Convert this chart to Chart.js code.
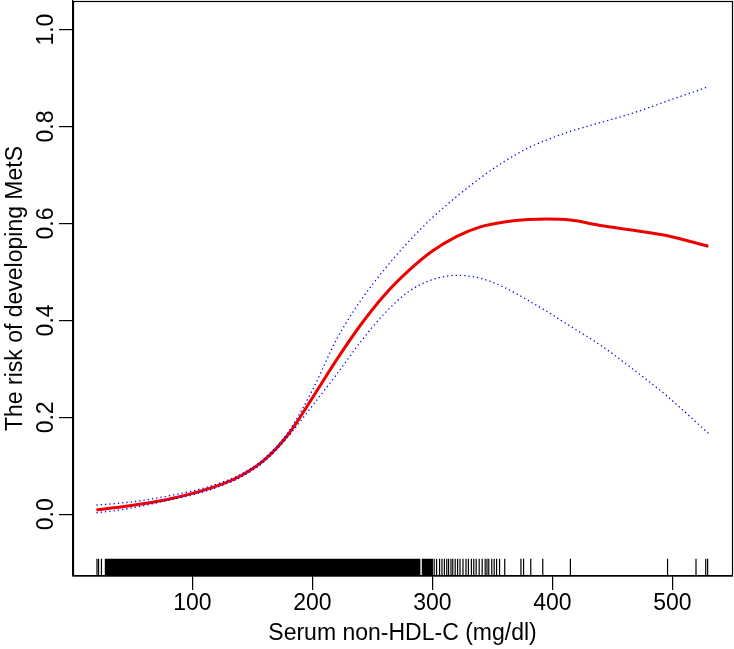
<!DOCTYPE html>
<html>
<head>
<meta charset="utf-8">
<script src="https://cdn.jsdelivr.net/npm/chart.js@4.4.1/dist/chart.umd.min.js"></script>
<style>
html,body{margin:0;padding:0;background:#fff;}
#wrap{width:734px;height:649px;position:relative;}
</style>
</head>
<body>
<div id="wrap"><canvas id="c"></canvas></div>
<script>
// ---- data ----
const xValues = [20, 40, 60, 80, 100, 120, 140, 160, 180, 200, 220, 240, 260, 280, 300, 320, 340, 360, 380, 395, 415, 440, 470, 495, 530];
const riskFit = [0.009, 0.015, 0.022, 0.031, 0.043, 0.058, 0.079, 0.112, 0.165, 0.240, 0.318, 0.390, 0.452, 0.502, 0.543, 0.573, 0.593, 0.603, 0.608, 0.609, 0.607, 0.596, 0.585, 0.575, 0.553];
const riskUpper = [0.019, 0.023, 0.029, 0.038, 0.048, 0.062, 0.082, 0.115, 0.170, 0.256, 0.360, 0.440, 0.505, 0.562, 0.612, 0.655, 0.694, 0.728, 0.756, 0.772, 0.790, 0.808, 0.830, 0.852, 0.882];
const riskLower = [0.003, 0.009, 0.018, 0.029, 0.040, 0.055, 0.076, 0.109, 0.161, 0.224, 0.288, 0.355, 0.414, 0.459, 0.484, 0.493, 0.487, 0.468, 0.441, 0.419, 0.388, 0.349, 0.294, 0.245, 0.167];
const rugSingles = [20.5, 21.8, 24.2, 301.5, 303.5, 306, 308, 310, 312, 313.5, 315.5, 317, 319, 321, 323, 325.5, 328, 330, 332.5, 334.5, 336.5, 339, 341.5, 344, 345.5, 347, 349.5, 351.5, 353.5, 356, 360.3, 373.8, 376, 382, 392, 415, 496, 519.7, 527.8, 529.4];
const rugDenseRanges = [[26.8, 290.2], [291, 300.5]];
const xTicks = [100, 200, 300, 400, 500];
const yTicks = [0, 0.2, 0.4, 0.6, 0.8, 1.0];
const yTickLabels = ['0.0', '0.2', '0.4', '0.6', '0.8', '1.0'];
const xTitle = 'Serum non-HDL-C (mg/dl)';
const yTitle = 'The risk of developing MetS';

// ---- styling / layout constants ----
const FONT = 'Liberation Sans, Arial, Helvetica, sans-serif';
const FS = 23;
const X_MIN = 0.5, X_MAX = 549.7;
const Y_MIN = -0.1274, Y_MAX = 1.059;
const RUG_LO = Y_MIN, RUG_HI = -0.0919;

const pts = ys => xValues.map((x, i) => ({x: x, y: ys[i]}));

const rugLineData = [];
rugSingles.forEach(v => {
  rugLineData.push({x: v, y: RUG_LO}, {x: v, y: RUG_HI}, {x: v, y: null});
});

const datasets = [
  {data: pts(riskUpper), borderColor: '#0000ff', borderWidth: 1.3, borderDash: [1.3, 3], cubicInterpolationMode: 'monotone'},
  {data: pts(riskLower), borderColor: '#0000ff', borderWidth: 1.3, borderDash: [1.3, 3], cubicInterpolationMode: 'monotone'},
  {data: pts(riskFit), borderColor: '#ee0000', borderWidth: 3, cubicInterpolationMode: 'monotone'},
  {data: rugLineData, borderColor: '#000', borderWidth: 1.2, spanGaps: false}
];
rugDenseRanges.forEach(r => {
  datasets.push({data: [{x: r[0], y: RUG_HI}, {x: r[1], y: RUG_HI}], borderWidth: 0, borderColor: '#000',
    backgroundColor: '#000', fill: {value: RUG_LO}});
});
datasets.forEach(d => { d.pointRadius = 0; d.showLine = true; });

const boxAndLabels = {
  id: 'boxAndLabels',
  afterDraw(chart) {
    const ctx = chart.ctx, a = chart.chartArea, ys = chart.scales.y;
    ctx.save();
    ctx.strokeStyle = '#000';
    ctx.lineWidth = 1.2;
    ctx.strokeRect(Math.round(a.left) + 0.5, Math.round(a.top) + 0.5, Math.round(a.right - a.left), Math.round(a.bottom - a.top) - 0.5);
    ctx.fillStyle = '#000';
    ctx.font = FS + 'px ' + FONT;
    ctx.textAlign = 'center';
    ctx.textBaseline = 'alphabetic';
    yTicks.forEach((v, i) => {
      ctx.save();
      ctx.translate(53, ys.getPixelForValue(v));
      ctx.rotate(-Math.PI / 2);
      ctx.fillText(yTickLabels[i], 0, 0);
      ctx.restore();
    });
    ctx.restore();
  }
};

new Chart(document.getElementById('c'), {
  type: 'scatter',
  data: {datasets: datasets},
  plugins: [boxAndLabels],
  options: {
    responsive: true,
    maintainAspectRatio: false,
    devicePixelRatio: 1,
    animation: false,
    layout: {padding: {left: 0, top: 1, right: 2, bottom: 1}},
    plugins: {legend: {display: false}, tooltip: {enabled: false}},
    scales: {
      x: {
        type: 'linear', position: 'bottom', min: X_MIN, max: X_MAX,
        afterBuildTicks: s => { s.ticks = xTicks.map(v => ({value: v})); },
        afterFit: s => { s.height = 72; },
        ticks: {color: '#000', font: {family: FONT, size: FS}, padding: 0},
        grid: {drawOnChartArea: false, drawTicks: true, tickLength: 14, color: '#000', lineWidth: 1.2},
        border: {display: true, color: '#000', width: 1.2},
        title: {display: true, text: xTitle, color: '#000', font: {family: FONT, size: FS}, padding: {top: 0, bottom: 1}}
      },
      y: {
        type: 'linear', position: 'left', min: Y_MIN, max: Y_MAX,
        afterBuildTicks: s => { s.ticks = yTicks.map(v => ({value: v})); },
        afterFit: s => { s.width = 73; },
        ticks: {display: false},
        grid: {drawOnChartArea: false, drawTicks: true, tickLength: 14, color: '#000', lineWidth: 1.2},
        border: {display: true, color: '#000', width: 1.2},
        title: {display: true, text: yTitle, color: '#000', font: {family: FONT, size: FS}, padding: {top: 2, bottom: 0}}
      }
    }
  }
});
</script>
</body>
</html>
